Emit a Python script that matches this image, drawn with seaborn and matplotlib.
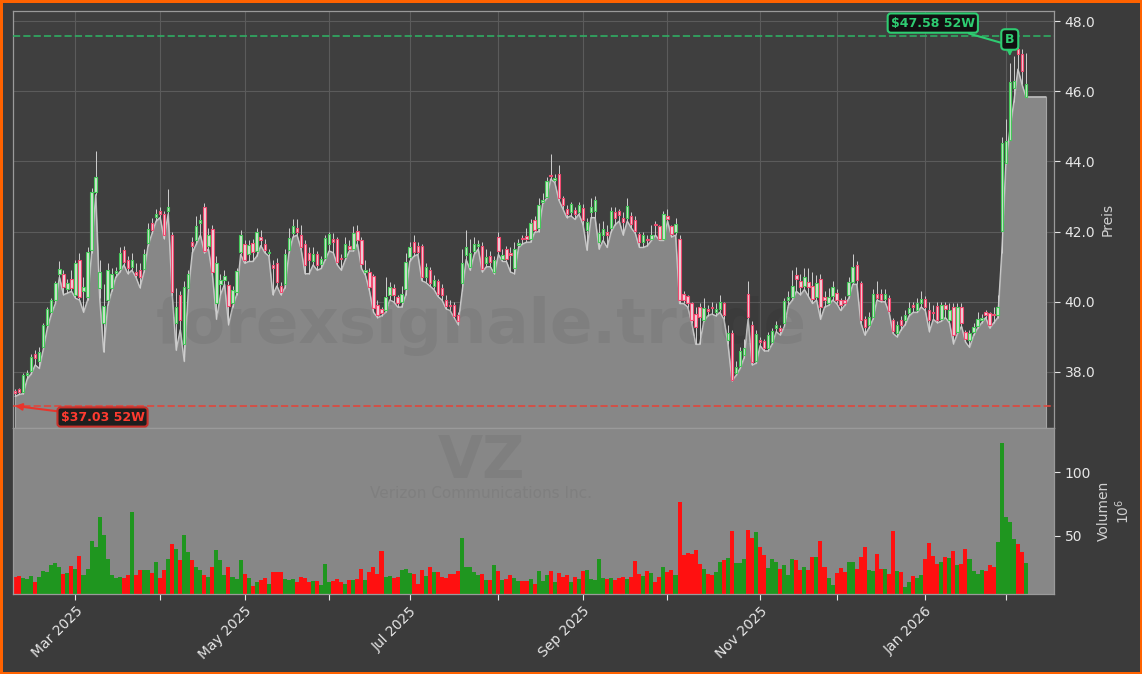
import numpy as np
import pandas as pd
import matplotlib
matplotlib.use("Agg")
import matplotlib.pyplot as plt
import seaborn as sns

# VZ daily candles, Feb 2025 - Feb 2026
start_date = "2025-02-07"
market_holidays = ["2025-02-17", "2025-04-18", "2025-05-26", "2025-06-19", "2025-07-04",
                   "2025-09-01", "2025-11-27", "2025-12-25", "2026-01-01", "2026-01-19",
                   "2026-02-16"]

open_prices = [
    37.45, 37.50, 37.44, 37.90, 38.02, 38.50, 38.30, 38.72, 39.33, 39.72,
    40.05, 40.80, 40.80, 40.35, 40.65, 40.20, 41.20, 40.30, 40.14, 41.47,
    43.12, 40.40, 39.40, 40.05, 40.38, 40.82, 40.94, 41.48, 41.18, 40.99,
    40.86, 40.90, 40.92, 41.66, 42.25, 42.41, 42.60, 42.49, 42.58, 41.90,
    39.40, 40.20, 38.80, 40.40, 41.70, 41.75, 42.25, 42.70, 41.60, 42.08,
    39.95, 40.50, 40.62, 40.48, 39.95, 40.28, 41.42, 41.64, 41.35, 41.68,
    41.46, 41.85, 41.65, 41.38, 41.05, 41.10, 40.45, 40.50, 41.47, 41.95,
    42.11, 41.90, 41.65, 41.38, 41.17, 41.35, 41.07, 41.26, 41.65, 41.80,
    41.78, 41.25, 41.28, 41.60, 41.51, 42.03, 41.75, 40.85, 40.85, 40.72,
    39.92, 39.78, 39.75, 40.20, 40.40, 40.13, 39.98, 40.35, 41.28, 41.70,
    41.60, 41.58, 40.71, 40.90, 40.45, 40.58, 40.40, 40.06, 39.92, 39.92,
    39.62, 40.54, 41.32, 40.99, 41.46, 41.60, 41.58, 41.10, 41.30, 40.85,
    41.85, 41.22, 41.50, 41.40, 40.95, 41.62, 41.80, 41.86, 41.80, 42.32,
    42.10, 42.85, 42.99, 43.62, 43.48, 43.64, 42.96, 42.65, 42.55, 42.62,
    42.55, 42.68, 42.05, 42.55, 42.60, 41.70, 41.90, 42.00, 42.10, 42.55,
    42.60, 42.40, 42.40, 42.43, 42.33, 41.94, 41.70, 41.80, 41.80, 42.20,
    42.15, 41.80, 42.45, 42.15, 41.98, 41.80, 40.22, 40.15, 39.95, 39.65,
    39.85, 39.48, 39.78, 39.85, 39.70, 39.80, 39.95, 38.90, 39.12, 37.97,
    38.17, 38.48, 40.23, 39.35, 38.31, 38.90, 38.89, 38.67, 38.86, 39.24,
    39.24, 39.38, 40.05, 40.14, 40.75, 40.60, 40.45, 40.55, 40.46, 40.14,
    40.66, 40.14, 39.95, 40.16, 40.25, 40.05, 40.05, 40.19, 40.57, 41.06,
    40.54, 39.52, 39.34, 39.57, 40.22, 40.22, 40.09, 40.11, 39.48, 39.10,
    39.48, 39.48, 39.67, 39.90, 39.76, 39.95, 40.09, 39.76, 39.72, 39.88,
    39.52, 39.90, 39.48, 39.86, 39.15, 39.86, 39.15, 38.90, 39.14, 39.31,
    39.48, 39.70, 39.67, 39.64, 39.62, 42.02, 43.95, 44.60, 46.10, 47.20,
    47.05, 45.85,
]
close_prices = [
    37.39, 37.44, 37.91, 37.96, 38.43, 38.39, 38.58, 39.33, 39.78, 40.04,
    40.54, 40.92, 40.42, 40.52, 40.38, 41.09, 40.14, 40.42, 41.42, 43.12,
    43.55, 40.85, 39.87, 40.90, 40.80, 40.87, 41.40, 41.13, 40.96, 41.18,
    40.77, 40.71, 41.37, 42.08, 42.05, 42.49, 42.49, 41.89, 42.70, 40.28,
    39.85, 39.48, 40.42, 40.80, 41.58, 42.15, 42.32, 41.46, 41.89, 40.85,
    41.09, 40.63, 40.73, 39.87, 40.33, 40.87, 41.91, 41.20, 41.61, 41.42,
    42.00, 41.75, 41.48, 41.41, 40.95, 40.57, 40.28, 41.37, 41.82, 42.15,
    41.99, 41.56, 41.04, 41.18, 41.37, 41.04, 41.23, 41.82, 41.94, 41.70,
    41.13, 41.21, 41.65, 41.51, 41.97, 41.75, 41.07, 40.90, 40.42, 39.81,
    39.62, 39.67, 40.14, 40.42, 40.19, 39.95, 40.23, 41.13, 41.56, 41.42,
    41.42, 40.71, 40.99, 40.52, 40.63, 40.23, 40.19, 39.87, 39.88, 39.59,
    39.45, 41.09, 41.56, 41.40, 41.65, 41.65, 40.94, 41.28, 41.13, 41.18,
    41.46, 41.32, 41.23, 41.32, 41.51, 41.68, 41.78, 41.80, 42.24, 42.05,
    42.76, 42.90, 43.43, 43.59, 43.53, 42.96, 42.76, 42.51, 42.79, 42.49,
    42.76, 42.34, 42.27, 42.70, 42.89, 41.95, 42.08, 41.89, 42.60, 42.40,
    42.46, 42.27, 42.74, 42.22, 42.03, 41.70, 41.91, 41.77, 41.91, 42.18,
    41.80, 42.49, 42.36, 41.94, 42.22, 40.04, 40.04, 39.95, 39.48, 39.29,
    39.57, 39.81, 39.74, 39.83, 39.78, 40.00, 39.62, 39.12, 37.77, 38.15,
    38.60, 38.67, 39.57, 38.29, 39.07, 38.86, 38.67, 39.05, 39.16, 39.35,
    39.17, 40.02, 40.14, 40.45, 40.66, 40.42, 40.71, 40.42, 40.09, 40.52,
    39.86, 40.05, 40.14, 40.42, 40.05, 39.90, 39.97, 40.57, 40.99, 40.61,
    39.48, 39.29, 39.57, 40.22, 40.12, 40.06, 40.22, 39.73, 39.16, 39.34,
    39.34, 39.62, 39.81, 39.84, 39.95, 40.09, 39.86, 39.48, 39.67, 39.48,
    39.90, 39.78, 39.76, 39.05, 39.84, 39.38, 38.93, 39.10, 39.29, 39.50,
    39.54, 39.62, 39.34, 39.62, 39.84, 44.52, 44.59, 46.25, 46.30, 47.05,
    46.58, 46.20,
]
high_prices = [
    37.50, 37.55, 37.98, 38.05, 38.50, 38.62, 38.70, 39.40, 39.85, 40.10,
    40.60, 41.15, 40.90, 40.65, 40.90, 41.20, 41.40, 40.70, 41.55, 43.25,
    44.30, 41.20, 40.50, 41.10, 40.95, 41.00, 41.55, 41.60, 41.30, 41.40,
    41.10, 41.10, 41.50, 42.25, 42.40, 42.65, 42.70, 42.60, 43.20, 42.00,
    40.40, 40.30, 40.60, 40.90, 41.85, 42.45, 42.50, 42.80, 42.10, 42.20,
    41.30, 40.80, 40.90, 40.60, 40.45, 40.95, 42.05, 41.75, 41.75, 41.80,
    42.10, 42.05, 41.80, 41.50, 41.20, 41.25, 40.55, 41.50, 42.10, 42.35,
    42.35, 42.20, 41.75, 41.55, 41.55, 41.45, 41.30, 41.90, 42.00, 41.95,
    41.85, 41.35, 41.85, 41.75, 42.15, 42.20, 41.85, 41.20, 40.95, 40.80,
    40.05, 39.85, 40.70, 40.55, 40.50, 40.20, 40.45, 41.40, 41.70, 41.90,
    41.70, 41.65, 41.10, 40.98, 40.75, 40.65, 40.50, 40.20, 40.05, 40.00,
    39.70, 41.50, 42.05, 41.80, 41.85, 41.75, 41.70, 41.50, 41.45, 41.30,
    42.00, 41.50, 41.60, 41.55, 41.70, 41.80, 41.90, 42.10, 42.35, 42.45,
    42.95, 43.10, 43.55, 44.20, 43.65, 43.90, 43.00, 42.75, 42.85, 42.70,
    42.85, 42.78, 42.40, 42.95, 43.00, 42.25, 42.30, 42.20, 42.70, 42.70,
    42.65, 42.55, 42.95, 42.55, 42.45, 42.00, 42.00, 41.90, 42.20, 42.30,
    42.20, 42.60, 42.65, 42.20, 42.40, 41.90, 40.30, 40.20, 40.00, 39.85,
    39.95, 40.10, 39.90, 40.00, 39.95, 40.20, 40.00, 39.35, 39.20, 38.30,
    38.70, 38.95, 40.60, 39.45, 39.20, 39.00, 38.95, 39.15, 39.25, 39.45,
    39.35, 40.10, 40.30, 40.90, 41.00, 40.80, 40.95, 40.95, 40.85, 40.75,
    40.80, 40.30, 40.40, 40.60, 40.35, 40.10, 40.15, 40.70, 41.37, 41.15,
    40.60, 39.60, 39.70, 40.35, 40.60, 40.35, 40.35, 40.20, 39.55, 39.45,
    39.60, 39.75, 40.00, 40.00, 40.10, 40.30, 40.15, 40.00, 39.90, 40.00,
    40.00, 40.00, 39.95, 39.95, 39.95, 39.95, 39.20, 39.20, 39.40, 39.70,
    39.65, 39.75, 39.70, 39.85, 40.20, 44.70, 45.20, 46.80, 47.00, 47.30,
    47.20, 47.10,
]
low_prices = [
    37.30, 37.36, 37.38, 37.80, 37.95, 38.20, 38.10, 38.65, 39.25, 39.65,
    39.95, 40.70, 40.20, 40.25, 40.30, 40.10, 40.05, 39.70, 40.05, 41.40,
    43.05, 40.10, 38.57, 39.90, 40.30, 40.70, 40.85, 41.05, 40.80, 40.90,
    40.70, 40.40, 40.85, 41.60, 41.95, 42.30, 42.40, 41.80, 42.50, 40.20,
    38.62, 39.20, 38.30, 40.30, 41.40, 41.65, 41.90, 41.40, 41.50, 40.75,
    39.50, 40.20, 40.50, 39.35, 39.85, 40.20, 41.35, 41.10, 41.15, 41.15,
    41.30, 41.60, 41.40, 41.30, 40.20, 40.45, 40.20, 40.40, 41.40, 41.85,
    41.90, 41.50, 40.80, 40.80, 41.05, 40.90, 40.95, 41.20, 41.45, 41.40,
    41.05, 40.90, 41.20, 41.45, 41.45, 41.65, 40.95, 40.75, 40.30, 39.70,
    39.55, 39.60, 39.70, 40.05, 40.00, 39.85, 39.85, 40.20, 41.15, 41.30,
    41.35, 40.60, 40.55, 40.45, 40.35, 40.15, 40.05, 39.80, 39.75, 39.55,
    39.35, 40.30, 41.20, 40.90, 41.35, 41.50, 40.85, 41.00, 41.00, 40.80,
    41.35, 41.15, 41.15, 40.85, 40.80, 41.55, 41.65, 41.70, 41.70, 41.98,
    42.00, 42.80, 42.95, 43.50, 43.40, 42.90, 42.65, 42.40, 42.45, 42.35,
    42.50, 42.20, 41.47, 42.40, 42.40, 41.50, 41.75, 41.55, 42.00, 42.20,
    42.30, 41.90, 42.30, 42.10, 41.95, 41.55, 41.55, 41.60, 41.75, 41.90,
    41.75, 41.75, 42.30, 41.85, 41.90, 39.95, 39.95, 39.85, 39.40, 38.79,
    38.79, 39.45, 39.60, 39.65, 39.60, 39.70, 39.50, 38.80, 37.75, 37.90,
    38.10, 38.40, 39.50, 38.20, 38.25, 38.75, 38.60, 38.60, 38.80, 39.15,
    39.05, 39.30, 39.90, 40.05, 40.30, 40.20, 40.35, 40.15, 39.95, 40.05,
    39.50, 39.85, 39.90, 40.05, 39.95, 39.75, 39.90, 40.10, 40.50, 40.50,
    39.40, 39.05, 39.25, 39.50, 40.05, 40.00, 40.00, 39.70, 39.10, 39.00,
    39.20, 39.35, 39.60, 39.70, 39.70, 39.85, 39.75, 39.15, 39.50, 39.40,
    39.45, 39.55, 39.40, 38.80, 39.10, 39.30, 38.85, 38.70, 39.05, 39.25,
    39.40, 39.55, 39.25, 39.40, 39.55, 41.40, 43.93, 44.90, 45.70, 46.63,
    46.20, 45.84,
]
# volume in millions of shares
volume_m = [
    18.1, 18.6, 16.8, 16.0, 18.6, 13.7, 18.1, 22.5, 21.5, 27.3,
    28.6, 25.9, 20.2, 20.7, 26.5, 24.1, 34.3, 19.4, 24.1, 46.1,
    41.6, 64.7, 50.8, 32.0, 19.4, 17.3, 17.8, 16.8, 19.4, 68.6,
    19.4, 23.3, 23.3, 23.3, 21.2, 29.4, 17.3, 23.3, 32.0, 43.7,
    39.8, 31.2, 50.8, 37.7, 31.2, 25.9, 23.3, 18.9, 18.1, 25.9,
    39.0, 31.2, 18.9, 25.2, 18.1, 16.3, 31.2, 20.2, 16.8, 11.0,
    13.7, 15.0, 17.3, 12.3, 21.8, 21.8, 21.8, 16.0, 15.5, 16.3,
    13.7, 17.8, 16.8, 13.7, 14.7, 14.7, 11.6, 28.0, 13.7, 14.7,
    16.3, 13.7, 12.1, 15.5, 15.5, 16.3, 24.1, 15.5, 21.5, 25.2,
    20.2, 38.2, 18.1, 18.6, 17.3, 18.1, 23.3, 24.1, 20.7, 20.2,
    12.3, 23.3, 18.6, 25.2, 21.5, 21.8, 18.1, 17.3, 19.9, 20.4,
    22.5, 48.7, 25.2, 25.2, 21.5, 18.9, 20.2, 15.0, 15.5, 27.3,
    22.5, 15.5, 16.3, 19.4, 16.8, 14.7, 14.7, 14.2, 16.3, 12.1,
    22.6, 14.7, 19.4, 22.6, 13.9, 21.0, 18.1, 19.4, 13.9, 17.9,
    16.3, 22.6, 23.4, 16.3, 15.5, 32.0, 17.1, 16.3, 17.1, 15.5,
    17.1, 17.9, 16.3, 17.9, 30.7, 20.2, 18.6, 22.6, 21.0, 13.9,
    17.9, 25.7, 21.8, 23.4, 19.4, 76.7, 35.1, 36.4, 35.9, 39.1,
    28.1, 24.2, 20.2, 18.9, 21.8, 29.6, 31.2, 32.8, 54.2, 28.9,
    28.9, 32.0, 54.8, 48.2, 53.2, 41.4, 35.1, 24.9, 32.0, 29.6,
    24.2, 27.3, 19.4, 32.0, 31.2, 23.4, 25.7, 23.4, 33.6, 33.6,
    46.1, 25.7, 17.1, 11.6, 21.0, 24.9, 21.8, 29.6, 29.6, 24.2,
    33.6, 41.4, 23.4, 22.6, 35.9, 24.2, 24.2, 20.2, 54.0, 22.6,
    21.8, 10.0, 13.9, 18.6, 17.1, 19.4, 32.0, 44.6, 34.4, 28.1,
    29.6, 33.6, 32.8, 38.3, 27.3, 28.1, 39.8, 32.0, 22.6, 20.2,
    23.4, 22.6, 27.3, 25.7, 45.3, 122.8, 65.0, 61.0, 47.7, 43.8,
    37.5, 28.9,
]
high_52w = 47.58
low_52w = 37.03
signal_dates = ["2026-02-03"]
pad_days = 5  # empty future sessions on the right

# colours
bg_fig = "#3b3b3b"
bg_ax = "#3f3f3f"
fill_grey = "#878787"
up_vol = "#1f961f"
down_vol = "#ff1010"
green_lbl = "#2ecc71"
red_lbl = "#ff3b30"
text_col = "#e6e6e6"

sns.set_style("dark", rc={"axes.facecolor": bg_ax, "figure.facecolor": bg_fig})
plt.rcParams["font.family"] = ["DejaVu Sans"]

o = np.array(open_prices)
c = np.array(close_prices)
h = np.array(high_prices)
l = np.array(low_prices)
n = len(c)
idx = np.arange(n)
dates = pd.bdate_range(start_date, periods=n + pad_days, freq="C", holidays=market_holidays)
up = c >= o

# lows carried forward over the empty sessions
idx_pad = np.arange(n + pad_days)
low_pad = pd.Series(l).reindex(idx_pad).ffill().to_numpy()

ylo, yhi = low_52w * 0.983, high_52w * 1.015

fig = plt.figure(figsize=(11.42, 6.74), dpi=100)
fig.patch.set_facecolor(bg_fig)
fig.patch.set_edgecolor("#ff6200")
fig.patch.set_linewidth(3.5)
axp = fig.add_axes([0.0114, 0.365, 0.9116, 0.619])
axv = fig.add_axes([0.0114, 0.119, 0.9116, 0.246], sharex=axp)

# --- price panel
axp.fill_between(idx_pad, low_pad, ylo, facecolor=fill_grey, edgecolor="#a5a5a5",
                 linewidth=0.8, zorder=2)
sns.lineplot(x=idx_pad, y=low_pad, ax=axp, color="#c8c8c8", linewidth=0.9, zorder=2.5)
axp.vlines(idx, l, h, color="#cfcfcf", linewidth=0.7, zorder=3)
body_bottom = np.minimum(o, c)
body_h = np.maximum(np.abs(c - o), 0.03)
axp.bar(idx, body_h, bottom=body_bottom, width=0.6,
        color=np.where(up, "#cfe3cf", "#eed3da"),
        edgecolor=np.where(up, "#45c95a", "#f24a70"), linewidth=0.8, zorder=4)

axp.axhline(high_52w, color="#2fae63", ls="--", lw=1.4, alpha=0.85, zorder=5)
axp.axhline(low_52w, color="#e0463c", ls="--", lw=1.4, alpha=0.85, zorder=5)

sig_idx = [dates.get_loc(pd.Timestamp(d)) for d in signal_dates]
for si in sig_idx:
    b_ann = axp.annotate("B", xy=(si, h[si] + 0.2), xytext=(0, 12), textcoords="offset points",
                         ha="center", va="center", color=green_lbl, fontsize=9, fontweight="bold",
                         bbox=dict(boxstyle="round,pad=0.3", fc="#111111", ec=green_lbl, lw=1.5),
                         arrowprops=dict(arrowstyle="-|>", color=green_lbl, lw=1.2,
                                         shrinkA=0, shrinkB=0, mutation_scale=9),
                         zorder=8)
    axp.annotate(f"${high_52w:.2f} 52W", xy=(0, 0.5), xycoords=b_ann, xytext=(-52, 15),
                 textcoords="offset points", ha="center", va="center", color=green_lbl,
                 fontsize=9, fontweight="bold",
                 bbox=dict(boxstyle="round,pad=0.25", fc="#111111", ec=green_lbl, lw=1.5),
                 arrowprops=dict(arrowstyle="-", color=green_lbl, lw=1.5, shrinkA=0, shrinkB=0),
                 zorder=7)

low_idx = int(np.argmin(l))
axp.annotate(f"${low_52w:.2f} 52W", xy=(low_idx, low_52w), xytext=(63, -8),
             textcoords="offset points", ha="center", va="center", color=red_lbl,
             fontsize=9, fontweight="bold",
             bbox=dict(boxstyle="round,pad=0.25", fc="#1e1e1e", ec="#c8302a", lw=1.5),
             arrowprops=dict(arrowstyle="-|>", color="#e8352c", lw=1.5, shrinkA=0, shrinkB=0,
                             mutation_scale=10),
             zorder=7)

axp.text(0.45, 0.245, "forexsignale.trade", transform=axp.transAxes, ha="center", va="center",
         fontsize=45, fontweight="bold", color="black", alpha=0.06, zorder=2.8)

axp.set_ylim(ylo, yhi)
axp.set_yticks([38, 40, 42, 44, 46, 48])
axp.set_yticklabels([f"{v:.1f}" for v in [38, 40, 42, 44, 46, 48]])
axp.yaxis.tick_right()
axp.yaxis.set_label_position("right")
axp.set_ylabel("Preis", color="#d0d0d0", fontsize=10)
axp.set_xlabel("")
axp.grid(True, color="#5b5b5b", linewidth=0.8)
axp.set_axisbelow(True)
axp.tick_params(axis="y", colors=text_col, labelsize=10, length=4, right=True)
axp.tick_params(axis="x", labelbottom=False, bottom=False)
for sp in axp.spines.values():
    sp.set_color("#9a9a9a")
    sp.set_linewidth(0.9)

# --- volume panel
vol_df = pd.DataFrame({"idx": idx, "vol": volume_m, "dir": np.where(up, "up", "down")})
sns.barplot(data=vol_df, x="idx", y="vol", hue="dir", palette={"up": up_vol, "down": down_vol},
            native_scale=True, width=1.0, dodge=False, errorbar=None, legend=False,
            saturation=1, linewidth=0, ax=axv)
axv.set_facecolor(fill_grey)
axv.text(0.45, 0.80, "VZ", transform=axv.transAxes, ha="center", va="center",
         fontsize=42, fontweight="bold", color="black", alpha=0.06)
axv.text(0.45, 0.605, "Verizon Communications Inc.", transform=axv.transAxes, ha="center",
         va="center", fontsize=11, color="black", alpha=0.06)
axv.set_ylim(4.5, 135)
axv.set_yticks([50, 100])
axv.yaxis.tick_right()
axv.yaxis.set_label_position("right")
axv.set_ylabel("Volumen\n$10^{6}$", color="#d0d0d0", fontsize=10)
axv.set_xlabel("")
axv.grid(False)
for sp in axv.spines.values():
    sp.set_color("#9a9a9a")
    sp.set_linewidth(0.9)

months = dates.to_period("M")
tick_pos = [i for i in range(1, len(dates)) if months[i] != months[i - 1]]
tick_lab = [dates[i].strftime("%b %Y") if dates[i].month % 2 == 1 else "" for i in tick_pos]
axv.set_xticks(tick_pos)
axv.set_xticklabels(tick_lab, rotation=45, ha="right", rotation_mode="anchor")
axp.set_xticks(tick_pos)
axv.tick_params(axis="x", colors=text_col, labelsize=10, length=4, bottom=True, labelbottom=True)
axv.tick_params(axis="y", colors=text_col, labelsize=10, length=4, right=True)
axp.tick_params(axis="x", labelbottom=False, bottom=False)
axp.set_xlim(-0.5, n + pad_days + 1)

fig.savefig("out.png", dpi=100, facecolor=fig.get_facecolor(), edgecolor=fig.get_edgecolor())
